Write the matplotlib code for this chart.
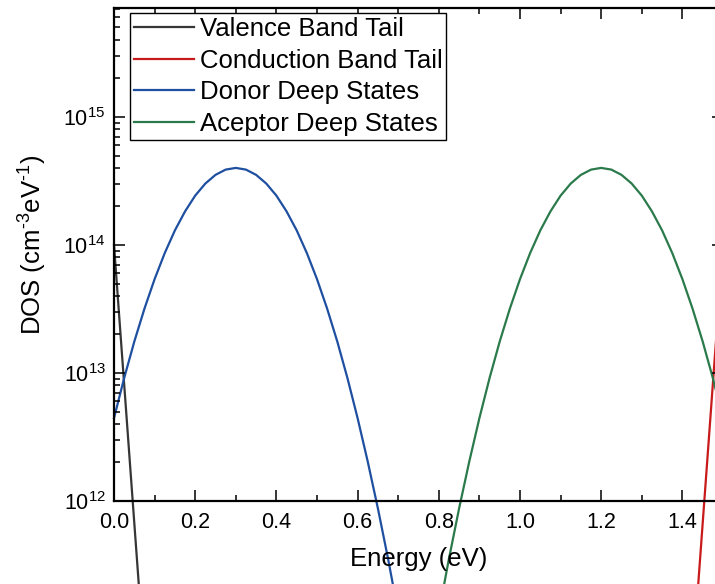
import matplotlib
matplotlib.use("Agg")
import matplotlib.pyplot as plt
from matplotlib.ticker import LogLocator, MultipleLocator, NullFormatter

plt.rcParams['font.family'] = ['Liberation Sans', 'DejaVu Sans']
plt.rcParams['mathtext.fontset'] = 'custom'
plt.rcParams['mathtext.rm'] = 'Liberation Sans'
plt.rcParams['mathtext.it'] = 'Liberation Sans:italic'
plt.rcParams['mathtext.bf'] = 'Liberation Sans:bold'

# ---- data (energy in eV, DOS in cm^-3 eV^-1) ----
valence_E = [0.0, 0.07]
valence_DOS = [1.0e14, 9.1e10]

conduction_E = [1.43, 1.50]
conduction_DOS = [9.1e10, 1.0e14]

donor_E = [0.000, 0.025, 0.050, 0.075, 0.100, 0.125, 0.150, 0.175, 0.200, 0.225,
           0.250, 0.275, 0.300, 0.325, 0.350, 0.375, 0.400, 0.425, 0.450, 0.475,
           0.500, 0.525, 0.550, 0.575, 0.600, 0.625, 0.650, 0.675, 0.700]
donor_DOS = [4.44e12, 9.12e12, 1.76e13, 3.18e13, 5.41e13, 8.65e13, 1.30e14, 1.83e14,
             2.43e14, 3.02e14, 3.53e14, 3.88e14, 4.00e14, 3.88e14, 3.53e14, 3.02e14,
             2.43e14, 1.83e14, 1.30e14, 8.65e13, 5.41e13, 3.18e13, 1.76e13, 9.12e12,
             4.44e12, 2.03e12, 8.75e11, 3.54e11, 1.34e11]

acceptor_E = [0.800, 0.825, 0.850, 0.875, 0.900, 0.925, 0.950, 0.975, 1.000, 1.025,
              1.050, 1.075, 1.100, 1.125, 1.150, 1.175, 1.200, 1.225, 1.250, 1.275,
              1.300, 1.325, 1.350, 1.375, 1.400, 1.425, 1.450, 1.475, 1.500]
acceptor_DOS = [1.34e11, 3.54e11, 8.75e11, 2.03e12, 4.44e12, 9.12e12, 1.76e13, 3.18e13,
                5.41e13, 8.65e13, 1.30e14, 1.83e14, 2.43e14, 3.02e14, 3.53e14, 3.88e14,
                4.00e14, 3.88e14, 3.53e14, 3.02e14, 2.43e14, 1.83e14, 1.30e14, 8.65e13,
                5.41e13, 3.18e13, 1.76e13, 9.12e12, 4.44e12]

labels = ["Valence Band Tail", "Conduction Band Tail", "Donor Deep States", "Aceptor Deep States"]
colors = ["#363636", "#c81a1a", "#1f4fa0", "#2b7a4b"]

fig = plt.figure(figsize=(7.15, 5.84), dpi=100)
ax = fig.add_axes([114/715, 83/584, 609/715, 493/584])

series = [(valence_E, valence_DOS), (conduction_E, conduction_DOS),
          (donor_E, donor_DOS), (acceptor_E, acceptor_DOS)]
for (e, d), lab, c in zip(series, labels, colors):
    ax.plot(e, d, color=c, lw=1.6, label=lab, clip_on=False, zorder=1,
            solid_joinstyle='round')

ax.set_yscale('log')
ax.set_xlim(0, 1.5)
ax.set_ylim(1e12, 7.1e15)

ax.xaxis.set_major_locator(MultipleLocator(0.2))
ax.xaxis.set_minor_locator(MultipleLocator(0.1))
ax.yaxis.set_major_locator(LogLocator(base=10, numticks=10))
ax.yaxis.set_minor_locator(LogLocator(base=10, subs=range(2, 10), numticks=20))
ax.yaxis.set_minor_formatter(NullFormatter())

ax.tick_params(which='both', direction='in', top=True, right=True, width=1.1, colors='black')
ax.tick_params(which='major', length=8, labelsize=15.5, pad=6)
ax.tick_params(which='minor', length=4.5)
ax.tick_params(axis='x', which='major', pad=8)
for s in ax.spines.values():
    s.set_linewidth(1.6)
    s.set_zorder(3)

ax.set_xlabel("Energy (eV)", fontsize=18.5, labelpad=10)
ax.set_ylabel("DOS (cm$^{\\text{-}3}$eV$^{\\text{-}1}$)", fontsize=18.5)
ax.yaxis.set_label_coords(-0.106, 0.519)

leg = ax.legend(loc='upper left', bbox_to_anchor=(16/609, 488/493), borderaxespad=0,
                fontsize=18.5, frameon=True, fancybox=False, edgecolor='black',
                handlelength=2.35, handletextpad=0.22, labelspacing=0.3,
                borderpad=0.15)
leg.get_frame().set_linewidth(1.0)
leg.get_frame().set_alpha(1)

fig.savefig("out.png", dpi=100)
